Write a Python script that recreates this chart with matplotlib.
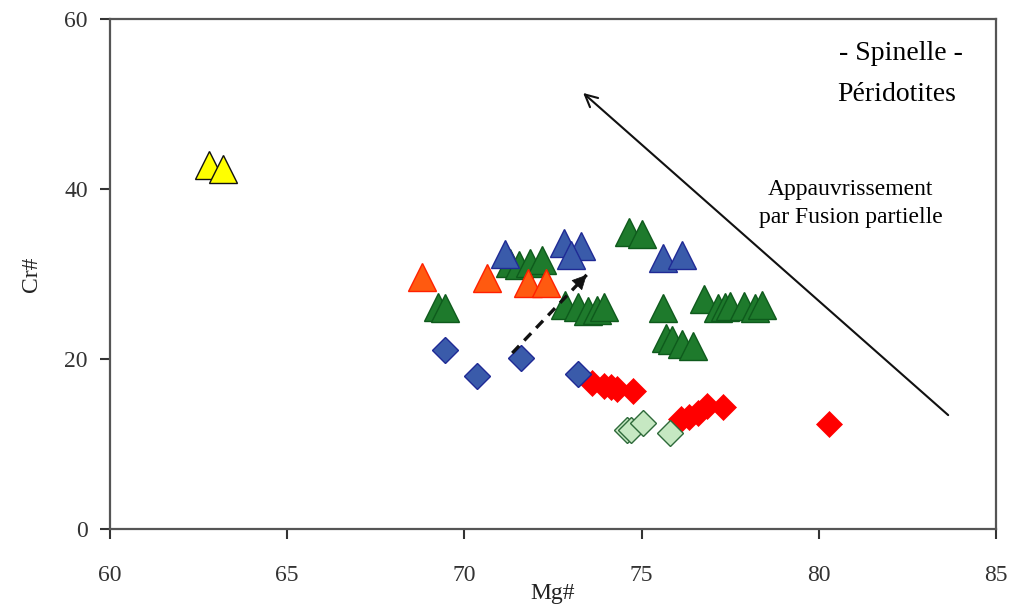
import matplotlib
matplotlib.use("Agg")
import matplotlib.pyplot as plt

# ---- data ----
yellow_tri_x = [62.8, 63.2]
yellow_tri_y = [42.8, 42.4]

orange_tri_x = [68.8, 70.65, 71.8, 72.3]
orange_tri_y = [29.7, 29.5, 28.9, 28.9]

green_tri_x = [69.25, 69.45, 71.3, 71.55, 71.85, 72.2,
               72.85, 73.2, 73.5, 73.75, 73.95,
               74.65, 75.0, 75.6,
               76.75, 77.15, 77.35, 77.5, 77.9, 78.2, 78.4,
               75.7, 75.85, 76.15, 76.45]
green_tri_y = [26.1, 26.0, 31.3, 31.1, 31.3, 31.6,
               26.3, 26.1, 25.7, 25.8, 26.1,
               34.9, 34.7, 26.0,
               27.0, 26.0, 26.1, 26.2, 26.2, 26.0, 26.4,
               22.5, 22.2, 21.8, 21.5]

blue_tri_x = [71.15, 72.8, 73.3, 73.0, 75.6, 76.15]
blue_tri_y = [32.4, 33.6, 33.3, 32.2, 31.9, 32.2]

red_dia_x = [73.6, 73.95, 74.15, 74.3, 74.75,
             76.1, 76.35, 76.6, 76.85, 77.3, 80.3]
red_dia_y = [17.2, 16.8, 16.7, 16.5, 16.2,
             12.9, 13.2, 13.7, 14.5, 14.3, 12.35]

lightgreen_dia_x = [74.6, 74.7, 75.05, 75.8]
lightgreen_dia_y = [11.6, 11.7, 12.5, 11.3]

blue_dia_x = [69.45, 70.35, 71.6, 73.2]
blue_dia_y = [21.1, 18.0, 20.1, 18.2]

x_ticks = [60, 65, 70, 75, 80, 85]
y_ticks = [0, 20, 40, 60]

# arrows (data coordinates)
melt_arrow_start = (83.65, 13.4)
melt_arrow_end = (73.35, 51.3)
dash_arrow_start = (71.35, 20.7)
dash_arrow_end = (73.45, 29.9)

# ---- figure ----
plt.rcParams['font.family'] = ['Liberation Serif', 'DejaVu Serif']
fig = plt.figure(figsize=(10.11, 6.07), dpi=100)
ax = fig.add_axes([0.1088, 0.1285, 0.8764, 0.8402])

tri_ms = 20.5
dia_ms = 13.5

ax.plot(green_tri_x, green_tri_y, '^', ms=tri_ms, mfc='#1E7A2C', mec='#0E5A1C', mew=1.0, ls='none', zorder=3)
ax.plot(blue_tri_x, blue_tri_y, '^', ms=tri_ms, mfc='#3A5BAA', mec='#1F2A95', mew=1.0, ls='none', zorder=4)
ax.plot(orange_tri_x, orange_tri_y, '^', ms=tri_ms, mfc='#FF5A10', mec='#FF2000', mew=1.0, ls='none', zorder=5)
ax.plot(yellow_tri_x, yellow_tri_y, '^', ms=tri_ms, mfc='#FFFF00', mec='#111111', mew=1.0, ls='none', zorder=5)

ax.plot(red_dia_x, red_dia_y, 'D', ms=dia_ms, mfc='#FF0000', mec='#FF0000', mew=0.5, ls='none', zorder=3)
ax.plot(lightgreen_dia_x, lightgreen_dia_y, 'D', ms=dia_ms, mfc='#C6E8C2', mec='#2E6A3A', mew=1.0, ls='none', zorder=4)
ax.plot(blue_dia_x, blue_dia_y, 'D', ms=dia_ms, mfc='#3A5BAA', mec='#1F2A95', mew=1.0, ls='none', zorder=5)

# solid arrow (partial melting)
ax.annotate('', xy=melt_arrow_end, xytext=melt_arrow_start,
            arrowprops=dict(arrowstyle='->', color='#111111', lw=1.5,
                            mutation_scale=22, shrinkA=0, shrinkB=0), zorder=6)

# dashed arrow
ax.plot([dash_arrow_start[0], dash_arrow_end[0]], [dash_arrow_start[1], dash_arrow_end[1]],
        ls=(0, (3, 2.2)), color='#111111', lw=2.4, zorder=6)
dx = dash_arrow_end[0] - dash_arrow_start[0]
dy = dash_arrow_end[1] - dash_arrow_start[1]
ax.annotate('', xy=dash_arrow_end,
            xytext=(dash_arrow_end[0] - 0.1 * dx, dash_arrow_end[1] - 0.1 * dy),
            arrowprops=dict(arrowstyle='-|>', color='#111111', lw=0.5,
                            mutation_scale=24, shrinkA=0, shrinkB=0), zorder=6)

# texts
ax.text(0.893, 0.932, '- Spinelle -', transform=ax.transAxes, ha='center', va='center', fontsize=20)
ax.text(0.888, 0.852, 'Péridotites', transform=ax.transAxes, ha='center', va='center', fontsize=20)
ax.text(0.836, 0.638, 'Appauvrissement\npar Fusion partielle', transform=ax.transAxes,
        ha='center', va='center', fontsize=17, linespacing=1.4)

ax.set_xlim(60, 85)
ax.set_ylim(0, 60)
ax.set_xticks(x_ticks)
ax.set_yticks(y_ticks)
ax.tick_params(axis='x', direction='out', length=7, width=1.5, pad=19, labelsize=17, colors='#333333')
ax.tick_params(axis='y', direction='out', length=7, width=1.5, pad=9, labelsize=17, colors='#333333')
for s in ax.spines.values():
    s.set_linewidth(1.6)
    s.set_color('#555555')

ax.set_xlabel('Mg#', fontsize=17, labelpad=-2, color='#222222')
ax.set_ylabel('Cr#', fontsize=17, labelpad=16, color='#222222')

fig.savefig('out.png', dpi=100)
